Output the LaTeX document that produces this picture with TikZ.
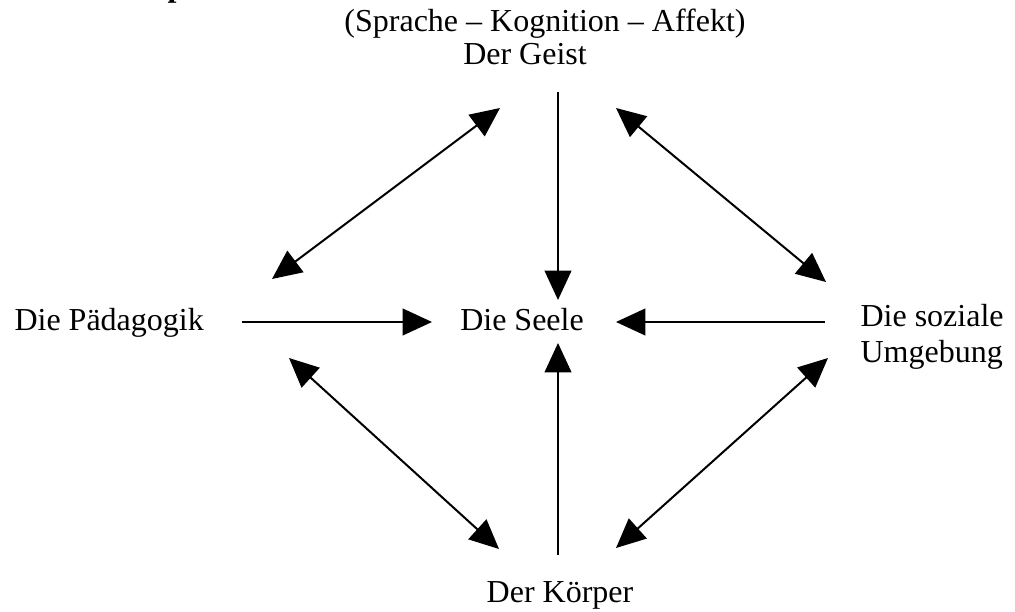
\documentclass[tikz,border=0pt]{standalone}
\usepackage{fontspec}
\setmainfont{Liberation Serif}
\usetikzlibrary{arrows.meta}
\tikzset{
  lbl/.style={anchor=base, inner sep=0pt, font=\fontsize{12}{13.5}\selectfont},
  pfeil/.style={line width=0.75pt, -{Triangle[length=11pt, width=10pt]}},
  doppel/.style={line width=0.75pt, {Triangle[length=11pt, width=10pt]}-{Triangle[length=11pt, width=10pt]}}
}
\begin{document}
\begin{tikzpicture}[x=0.375pt, y=-0.375pt]
  \useasboundingbox (0,0) rectangle (1015,612);
  % cut-off heading above the page
  \node[lbl, anchor=base west, font=\fontsize{12}{13.5}\selectfont\bfseries] (kopf) at (167,-3) {p};

  \node[lbl] (sprache) at (545,32) {(Sprache – Kognition – Affekt)};
  \node[lbl] (geist) at (525,65) {Der Geist};
  \node[lbl, anchor=base west] (paed) at (14,331) {Die Pädagogik};
  \node[lbl] (seele) at (522,331) {Die Seele};
  \node[lbl, anchor=base west, align=left, font=\fontsize{12}{13.2}\selectfont] (umwelt) at (860,362) {Die soziale\\Umgebung};
  \node[lbl] (koerper) at (560,602) {Der Körper};

  % end points of the arrows
  \coordinate (g1) at (558,92);   \coordinate (s1) at (558,300);
  \coordinate (k1) at (558,555);  \coordinate (s2) at (558,343);
  \coordinate (p1) at (242,322);  \coordinate (s3) at (432,322);
  \coordinate (u1) at (825,322);  \coordinate (s4) at (616,322);
  \coordinate (g2) at (500,108);  \coordinate (p2) at (272,279);
  \coordinate (g3) at (616,108);  \coordinate (u2) at (826,282);
  \coordinate (p3) at (289,358);  \coordinate (k2) at (499,549);
  \coordinate (u3) at (828,358);  \coordinate (k3) at (616,548);

  \draw[pfeil] (g1) -- (s1);
  \draw[pfeil] (k1) -- (s2);
  \draw[pfeil] (p1) -- (s3);
  \draw[pfeil] (u1) -- (s4);
  \draw[doppel] (p2) -- (g2);
  \draw[doppel] (g3) -- (u2);
  \draw[doppel] (p3) -- (k2);
  \draw[doppel] (k3) -- (u3);
\end{tikzpicture}
\end{document}
